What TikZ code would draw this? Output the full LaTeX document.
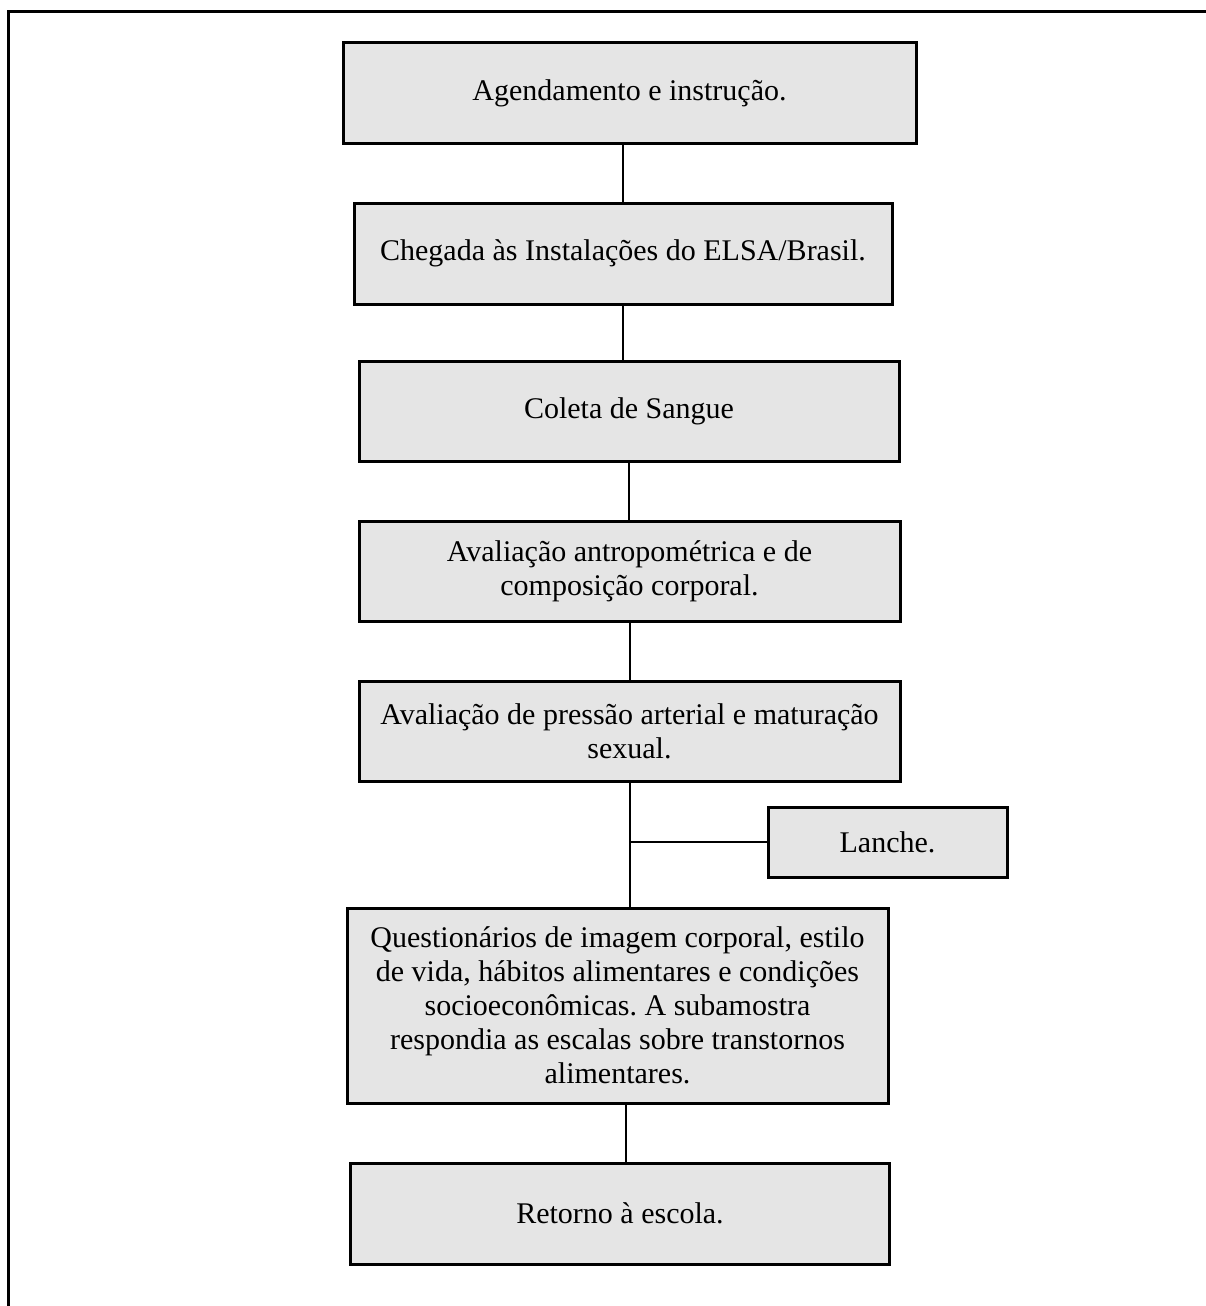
\documentclass[tikz,border=0pt]{standalone}
\usepackage{fontspec}
\setmainfont{Liberation Serif}
\definecolor{boxgray}{gray}{0.898}
\begin{document}
\begin{tikzpicture}[x=0.4pt,y=-0.4pt,
  box/.style={draw=black,fill=boxgray,line width=1.2pt,align=center,inner sep=0pt,
    font=\fontsize{12}{13.6}\selectfont\frenchspacing},
  link/.style={line width=0.8pt}]

\useasboundingbox (0,0) rectangle (1206,1306);
\draw[line width=1.2pt] (8,1330) -- (8,11) -- (1230,11);

\node[box,minimum width=229.2pt,minimum height=40pt] (agenda) at (629.5,93) {Agendamento e instrução.};
\node[box,minimum width=215.2pt,minimum height=40.4pt] (chegada) at (623,253.5) {Chegada às Instalações do ELSA/Brasil.};
\node[box,minimum width=216pt,minimum height=40pt] (sangue) at (629,411) {Coleta de Sangue};
\node[box,minimum width=216.4pt,minimum height=40pt] (antropo) at (629.5,571) {Avaliação antropométrica e de\\composição corporal.};
\node[box,minimum width=216.4pt,minimum height=40pt] (pressao) at (629.5,731) {Avaliação de pressão arterial e maturação\\sexual.};
\node[box,minimum width=95.6pt,minimum height=28pt] (lanche) at (887.5,842) {Lanche.};
\node[box,minimum width=216.4pt,minimum height=78pt] (quest) at (617.5,1005.5) {Questionários de imagem corporal, estilo\\de vida, hábitos alimentares e condições\\socioeconômicas. A subamostra\\respondia as escalas sobre transtornos\\alimentares.};
\node[box,minimum width=215.6pt,minimum height=40.4pt] (retorno) at (620,1213.5) {Retorno à escola.};

\draw[link] (agenda.south -| chegada.north) -- (chegada.north);
\draw[link] (chegada.south) -- (chegada.south |- sangue.north);
\draw[link] (sangue.south) -- (sangue.south |- antropo.north);
\draw[link] (antropo.south) -- (pressao.north);
\draw[link] (pressao.south) -- (pressao.south |- quest.north);
\coordinate (lanchejoin) at (pressao.south |- lanche.west);
\draw[link] (lanchejoin) -- (lanche.west);
\draw[link] ([xshift=3.4pt]quest.south) -- ([xshift=3.4pt]quest.south |- retorno.north);

\end{tikzpicture}
\end{document}
